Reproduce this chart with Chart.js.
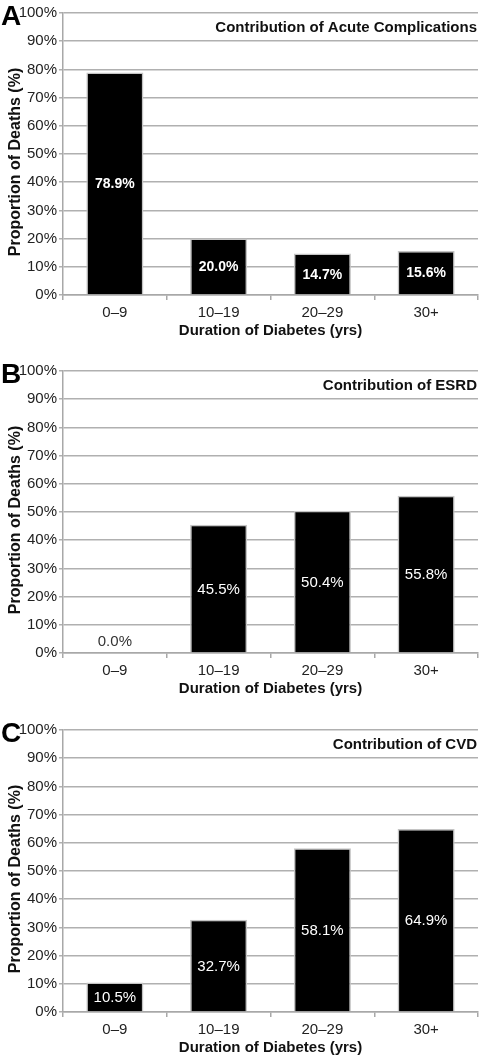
<!DOCTYPE html>
<html>
<head>
<meta charset="utf-8">
<script src="https://cdn.jsdelivr.net/npm/chart.js@4/dist/chart.umd.min.js"></script>
<style>
html,body{margin:0;padding:0;background:#fff;overflow:hidden;width:480px;height:1062px;}
.panel{position:absolute;left:0;width:480px;height:358px;}
</style>
</head>
<body>
<div class="panel" style="top:0"><canvas id="cA"></canvas></div>
<div class="panel" style="top:358px"><canvas id="cB"></canvas></div>
<div class="panel" style="top:717px"><canvas id="cC"></canvas></div>
<script>
const categories = ['0\u20139', '10\u201319', '20\u201329', '30+'];
const acuteValues = [78.9, 20.0, 14.7, 15.6];
const esrdValues = [0.0, 45.5, 50.4, 55.8];
const cvdValues = [10.5, 32.7, 58.1, 64.9];
const panelLetters = ['A', 'B', 'C'];
const panelTitles = ['Contribution of Acute Complications', 'Contribution of ESRD', 'Contribution of CVD'];
const yAxisTitle = 'Proportion of Deaths (%)';
const xAxisTitle = 'Duration of Diabetes (yrs)';

const FONT = "'Liberation Sans', Arial, Helvetica, sans-serif";

const decorPlugin = {
  id: 'decor',
  afterDatasetsDraw(chart, args, opts) {
    const ctx = chart.ctx;
    const meta = chart.getDatasetMeta(0);
    const vals = chart.data.datasets[0].data;
    const area = chart.chartArea;
    ctx.save();
    ctx.textAlign = 'center';
    ctx.textBaseline = 'middle';
    meta.data.forEach((bar, i) => {
      const v = vals[i];
      const txt = v.toFixed(1) + '%';
      ctx.font = opts.bold ? ('bold 14px ' + FONT) : ('15px ' + FONT);
      if (v === 0) {
        ctx.fillStyle = '#333';
        ctx.fillText(txt, bar.x, bar.base - 11);
      } else {
        ctx.fillStyle = '#fff';
        ctx.fillText(txt, bar.x, (bar.y + bar.base) / 2 + 1);
      }
    });
    // y axis title (rotated)
    ctx.save();
    ctx.translate(16, (area.top + area.bottom) / 2 + 8);
    ctx.rotate(-Math.PI / 2);
    ctx.font = 'bold 16px ' + FONT;
    ctx.fillStyle = '#111';
    ctx.textAlign = 'center';
    ctx.textBaseline = 'middle';
    ctx.fillText(opts.yTitle, 0, 0);
    ctx.restore();
    // panel letter
    ctx.textAlign = 'left';
    ctx.textBaseline = 'alphabetic';
    ctx.fillStyle = '#000';
    ctx.font = 'bold 28px ' + FONT;
    ctx.fillText(opts.letter, 1, 25);
    // title inside plot
    ctx.textAlign = 'right';
    ctx.textBaseline = 'middle';
    ctx.font = 'bold 15px ' + FONT;
    ctx.fillStyle = '#111';
    ctx.fillText(opts.title, area.right - 1, 28);
    ctx.restore();
  }
};

function makeChart(id, values, letter, title, bold) {
  return new Chart(document.getElementById(id), {
    type: 'bar',
    data: {
      labels: categories,
      datasets: [{
        data: values,
        backgroundColor: '#000',
        borderColor: '#c4c4c4',
        borderWidth: 1.5,
        barPercentage: 0.55,
        categoryPercentage: 1.0
      }]
    },
    options: {
      responsive: true,
      maintainAspectRatio: false,
      animation: false,
      events: [],
      layout: { padding: { top: 13, right: 2, left: 0, bottom: 0 } },
      plugins: {
        legend: { display: false },
        tooltip: { enabled: false },
        decor: { letter: letter, title: title, bold: bold, yTitle: yAxisTitle }
      },
      scales: {
        x: {
          offset: true,
          afterFit(s) { s.height = 63; },
          grid: { offset: true, drawOnChartArea: false, drawTicks: true, tickLength: 5, color: '#a8a8a8', lineWidth: 1.5 },
          border: { color: '#a8a8a8', width: 1.5 },
          ticks: { color: '#222', padding: 4, font: { family: FONT, size: 15 } },
          title: { display: true, text: xAxisTitle, color: '#111', padding: { top: 0, bottom: 18 }, font: { family: FONT, size: 15, weight: 'bold' } }
        },
        y: {
          min: 0, max: 100,
          afterFit(s) { s.width = 63; },
          grid: { color: '#b0b0b0', lineWidth: 1.5, tickLength: 4 },
          border: { color: '#a8a8a8', width: 1.5 },
          ticks: { stepSize: 10, color: '#222', padding: 2, font: { family: FONT, size: 15 }, callback: v => v + '%' },
          title: { display: false }
        }
      }
    },
    plugins: [decorPlugin]
  });
}

makeChart('cA', acuteValues, panelLetters[0], panelTitles[0], true);
makeChart('cB', esrdValues, panelLetters[1], panelTitles[1], false);
makeChart('cC', cvdValues, panelLetters[2], panelTitles[2], false);
</script>
</body>
</html>
